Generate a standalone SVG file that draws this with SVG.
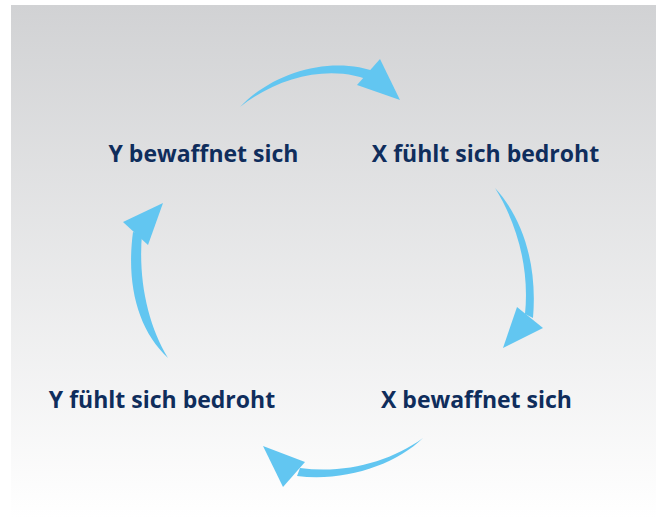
<svg xmlns="http://www.w3.org/2000/svg" width="660" height="519" viewBox="0 0 660 519">
  <defs>
    <linearGradient id="bg" x1="0" y1="0" x2="0" y2="1">
      <stop offset="0" stop-color="#d1d2d4"/>
      <stop offset="1" stop-color="#ffffff"/>
    </linearGradient>
    <style>
      .label { font-family: "Open Sans", "Lato", "Liberation Sans", sans-serif; font-weight: bold; font-size: 23px; fill: #0f2d5c; text-anchor: middle; }
      .arrow { fill: #62c6f1; stroke: none; }
    </style>
  </defs>

  <rect x="0" y="0" width="660" height="519" fill="#ffffff"/>
  <rect x="11" y="5" width="645" height="514" fill="url(#bg)"/>

  <!-- cycle connectors: tapered curved arrows -->
  <g id="connectors">
    <g id="arrow-top">
      <path class="arrow" d="M240,107 C275,70 335,55 379,73 L376,83 C335,63 280,75 240,107 Z"/>
      <polygon class="arrow" points="380,59 400,100 357,85"/>
    </g>
    <g id="arrow-right">
      <path class="arrow" d="M495,188 C520,215 538,260 533,318 L525,314 C530,265 515,220 495,188 Z"/>
      <polygon class="arrow" points="517,307 543,328 503,348"/>
    </g>
    <g id="arrow-bottom">
      <path class="arrow" d="M423,438 C395,465 345,482 297,476 L300,468 C345,474 390,462 423,438 Z"/>
      <polygon class="arrow" points="263,446 305,462 283,487"/>
    </g>
    <g id="arrow-left">
      <path class="arrow" d="M168,358 C138,330 126,285 133,232 L142,234 C138,280 148,325 168,358 Z"/>
      <polygon class="arrow" points="163,203 123,222 148,245"/>
    </g>
  </g>

  <g id="node-y-arms">
    <text class="label" x="203.5" y="162">Y bewaffnet sich</text>
  </g>
  <g id="node-x-threatened">
    <text class="label" x="485.5" y="162">X fühlt sich bedroht</text>
  </g>
  <g id="node-x-arms">
    <text class="label" x="476.5" y="408">X bewaffnet sich</text>
  </g>
  <g id="node-y-threatened">
    <text class="label" x="162" y="408">Y fühlt sich bedroht</text>
  </g>
</svg>
